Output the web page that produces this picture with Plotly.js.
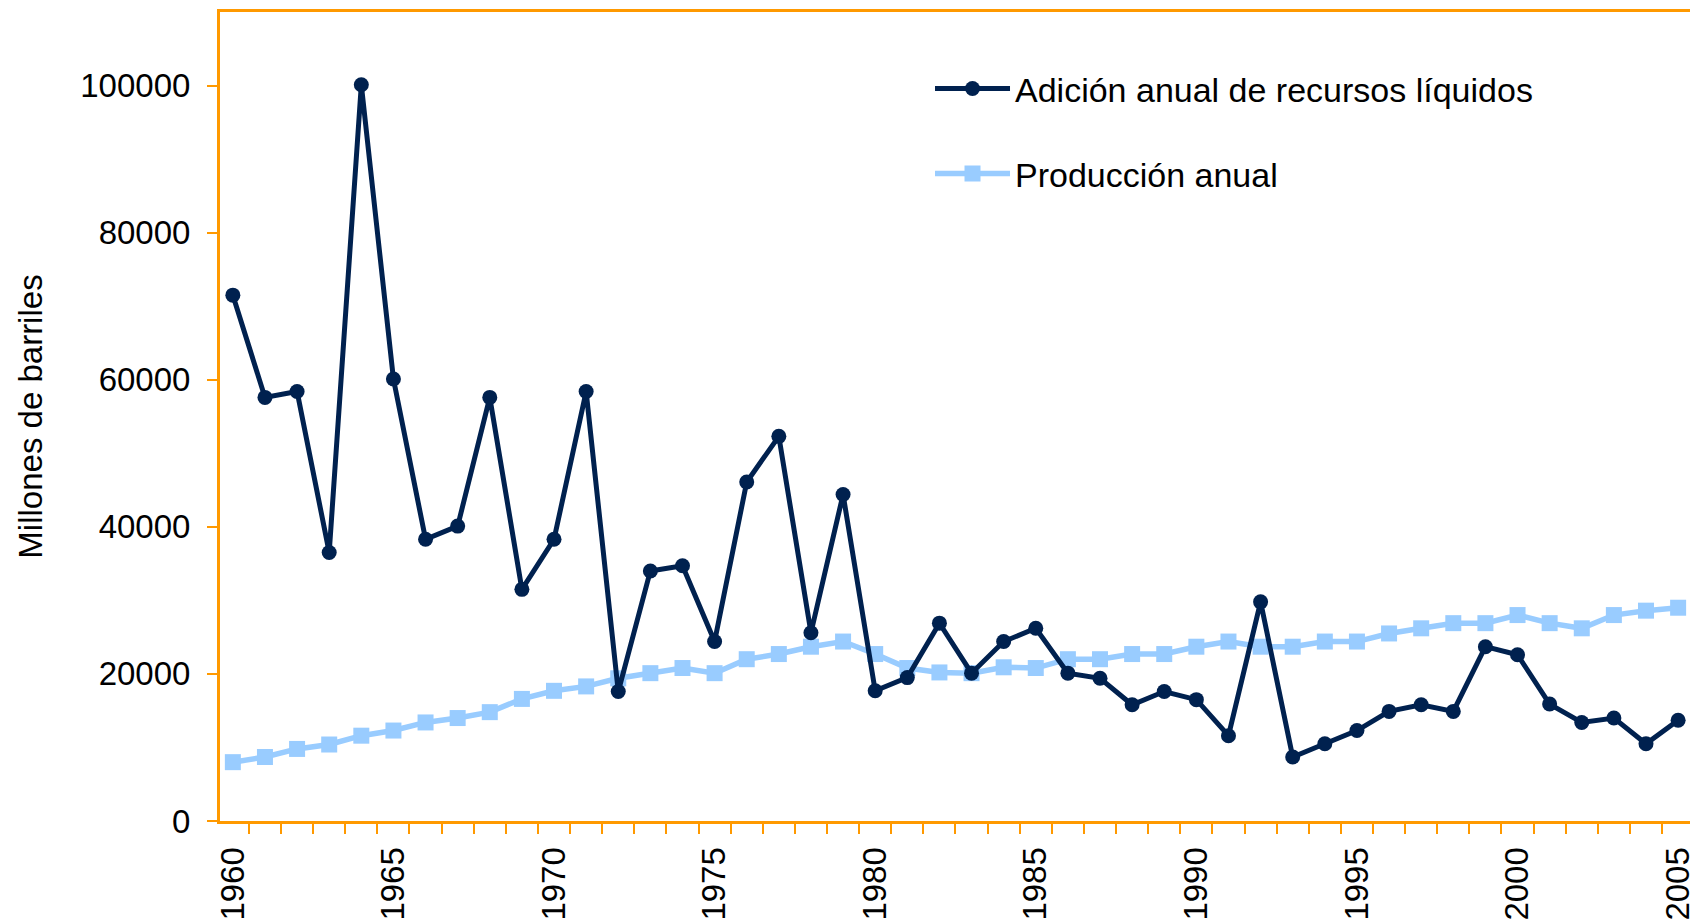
<!DOCTYPE html>
<html>
<head>
<meta charset="utf-8">
<script src="https://cdn.plot.ly/plotly-3.0.1.min.js"></script>
<style>html,body{margin:0;padding:0;background:#fff;}#chart{width:1690px;height:923px;}</style>
</head>
<body>
<div id="chart"></div>
<script>
var years = [1960,1961,1962,1963,1964,1965,1966,1967,1968,1969,
             1970,1971,1972,1973,1974,1975,1976,1977,1978,1979,
             1980,1981,1982,1983,1984,1985,1986,1987,1988,1989,
             1990,1991,1992,1993,1994,1995,1996,1997,1998,1999,
             2000,2001,2002,2003,2004,2005];

var adicionAnual = [71500,57600,58400,36500,100100,60100,38300,40100,57600,31500,
                    38300,58400,17600,34000,34700,24400,46100,52300,25600,44400,
                    17700,19500,26900,20100,24400,26200,20100,19400,15800,17600,
                    16500,11600,29800,8700,10500,12300,14900,15800,14900,23700,
                    22600,15900,13400,14000,10500,13700];

var produccionAnual = [8000,8700,9800,10400,11600,12300,13400,14000,14800,16600,
                       17700,18300,19400,20100,20800,20100,22000,22700,23700,24400,
                       22700,20800,20200,20100,20900,20800,22000,22000,22700,22700,
                       23700,24400,23700,23700,24400,24400,25500,26200,26900,26900,
                       28000,26900,26200,28000,28600,29000];

var seriesNames = ['Adición anual de recursos líquidos', 'Producción anual'];
var yTitle = 'Millones de barriles';

var ORANGE = '#FF9900';
var FONT = 'Liberation Sans, Arial, sans-serif';

var traces = [
  {
    x: years, y: produccionAnual, name: seriesNames[1], type: 'scatter', mode: 'lines+markers',
    line: {color: '#99CCFF', width: 5.5},
    marker: {color: '#99CCFF', size: 16, symbol: 'square'},
    legend: 'legend2', cliponaxis: false
  },
  {
    x: years, y: adicionAnual, name: seriesNames[0], type: 'scatter', mode: 'lines+markers',
    line: {color: '#00214F', width: 5},
    marker: {color: '#00214F', size: 15, symbol: 'circle'},
    legend: 'legend', cliponaxis: false
  }
];

var layout = {
  width: 1690, height: 923,
  margin: {l: 220, r: 0, t: 12, b: 101.5, pad: 0},
  paper_bgcolor: '#ffffff', plot_bgcolor: '#ffffff',
  font: {family: FONT, size: 33, color: '#000000'},
  showlegend: true,
  xaxis: {
    range: [1959.6, 2005.37],
    tick0: 1960, dtick: 5, tickmode: 'linear', tickformat: 'd',
    tickangle: -90,
    ticks: 'outside', ticklen: 10, tickcolor: 'rgba(0,0,0,0)',
    ticklabelstandoff: 0,
    ticklabeloverflow: 'allow',
    tickfont: {family: FONT, size: 33, color: '#000'},
    showgrid: false, zeroline: false,
    showline: true, linecolor: ORANGE, linewidth: 3, mirror: true,
    minor: {tick0: 1959.5, dtick: 1, ticks: 'outside', ticklen: 10, tickcolor: ORANGE, tickwidth: 2, showgrid: false},
    fixedrange: true
  },
  yaxis: {
    range: [0, 110000],
    tickmode: 'linear', tick0: 0, dtick: 20000, tickformat: 'd',
    ticks: 'outside', ticklen: 10, tickcolor: ORANGE, tickwidth: 2,
    ticklabelstandoff: 10,
    tickfont: {family: FONT, size: 33, color: '#000'},
    showgrid: false, zeroline: false,
    showline: true, linecolor: ORANGE, linewidth: 3, mirror: false,
    title: {text: yTitle, font: {family: FONT, size: 33, color: '#000'}, standoff: 28},
    automargin: false,
    fixedrange: true
  },
  legend: {
    x: 0.483, y: 0.905, xanchor: 'left', yanchor: 'middle',
    bgcolor: 'rgba(0,0,0,0)', borderwidth: 0,
    font: {family: FONT, size: 34, color: '#000'}, itemwidth: 75
  },
  legend2: {
    x: 0.483, y: 0.8, xanchor: 'left', yanchor: 'middle',
    bgcolor: 'rgba(0,0,0,0)', borderwidth: 0,
    font: {family: FONT, size: 34, color: '#000'}, itemwidth: 75
  }
};

Plotly.newPlot('chart', traces, layout, {displayModeBar: false, staticPlot: true});
</script>
</body>
</html>
